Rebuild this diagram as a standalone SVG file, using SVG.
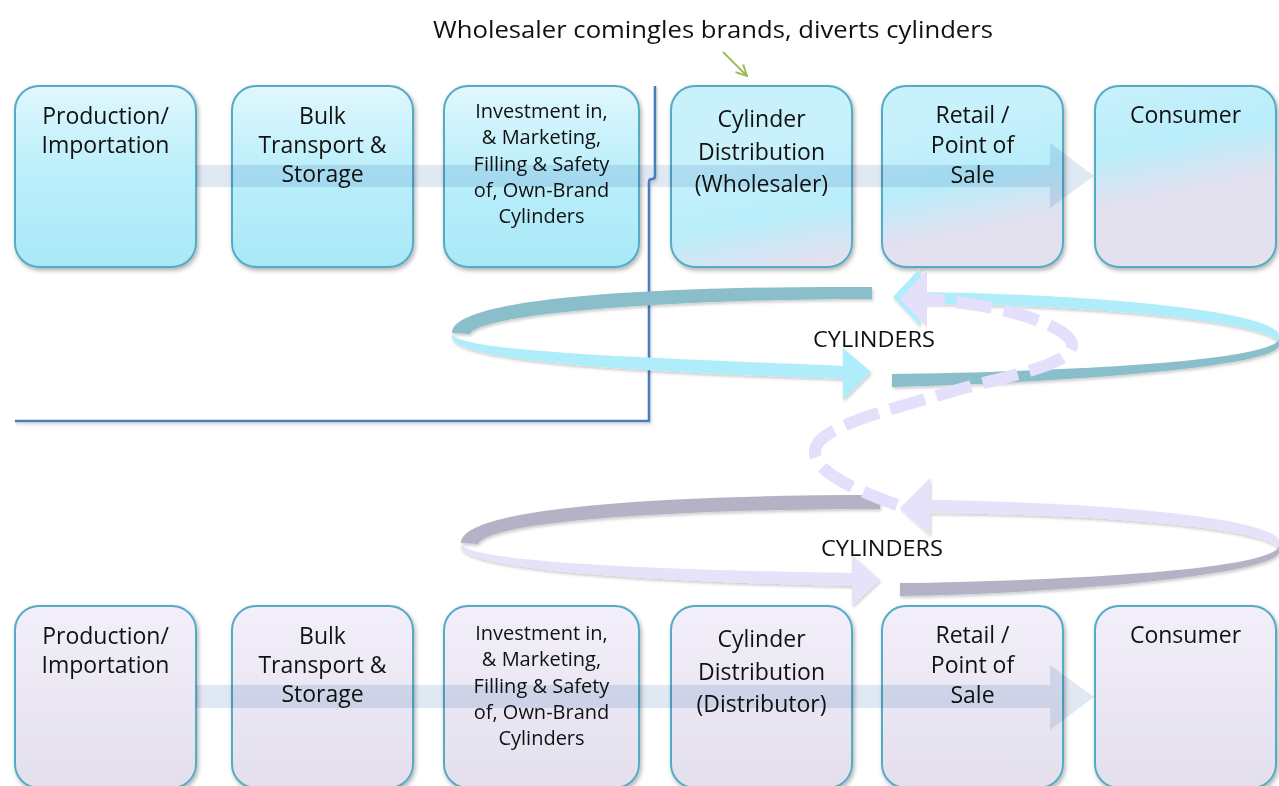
<svg xmlns="http://www.w3.org/2000/svg" width="1279" height="786" viewBox="0 0 1279 786">
  <defs>
    <style>
      .box { stroke: #55abc5; stroke-width: 2; }
      .lbl { font-family: "Open Sans", "Noto Sans", sans-serif; font-size: 23px; fill: #111; text-anchor: middle; }
      .sm { font-size: 20px; }
      .cyl { font-family: "Open Sans", "Noto Sans", sans-serif; font-size: 21px; fill: #111; text-anchor: middle; }
      .flow { fill: #8eaed4; fill-opacity: 0.27; mix-blend-mode: multiply; }
      .tdark { fill: #8abecb; }
      .tlight { fill: #b0edfb; }
      .bdark { fill: #b6b2c6; }
      .blight { fill: #e6e2fa; }
      .lav { fill: #e4dffa; }
    </style>
    <linearGradient id="gTop" x1="0" y1="0" x2="0" y2="1">
      <stop offset="0" stop-color="#e0f7fd"/>
      <stop offset="0.45" stop-color="#bdeffb"/>
      <stop offset="1" stop-color="#a9e8f8"/>
    </linearGradient>
    <linearGradient id="gMix" gradientUnits="userSpaceOnUse" x1="990" y1="110" x2="1030" y2="320">
      <stop offset="0" stop-color="#c8f1fc"/>
      <stop offset="0.3" stop-color="#b8edfa"/>
      <stop offset="0.55" stop-color="#e3e0ef"/>
      <stop offset="1" stop-color="#e5e1ed"/>
    </linearGradient>
    <linearGradient id="gBot" x1="0" y1="0" x2="0" y2="1">
      <stop offset="0" stop-color="#f2effa"/>
      <stop offset="1" stop-color="#e3dfed"/>
    </linearGradient>
    <filter id="sh" x="-10%" y="-10%" width="130%" height="130%">
      <feDropShadow dx="1.5" dy="2.5" stdDeviation="2" flood-color="#000" flood-opacity="0.3"/>
    </filter>
    <filter id="sh2" x="-5%" y="-20%" width="110%" height="150%">
      <feDropShadow dx="1" dy="2" stdDeviation="1.5" flood-color="#000" flood-opacity="0.2"/>
    </filter>
    <marker id="gArrow" viewBox="0 0 12 12" refX="11" refY="6" markerWidth="13" markerHeight="13" orient="auto" markerUnits="userSpaceOnUse">
      <path d="M1 1 L11 6 L1 11" fill="none" stroke="#9bbb59" stroke-width="1.8"/>
    </marker>
  </defs>

  <rect width="1279" height="786" fill="#ffffff"/>

  <!-- title -->
  <text id="title" x="713" y="38" font-family="Open Sans, Noto Sans, sans-serif" font-size="24" fill="#111" text-anchor="middle" textLength="560" lengthAdjust="spacingAndGlyphs">Wholesaler comingles brands, diverts cylinders</text>

  <!-- top row nodes -->
  <g id="top-production">
    <rect class="box" x="15" y="86" width="181" height="181" rx="24" fill="url(#gTop)" filter="url(#sh)"/>
    <text class="lbl" x="105.5" y="124">Production/</text>
    <text class="lbl" x="105.5" y="153">Importation</text>
  </g>
  <g id="top-bulk">
    <rect class="box" x="232" y="86" width="181" height="181" rx="24" fill="url(#gTop)" filter="url(#sh)"/>
    <text class="lbl" x="322.5" y="124">Bulk</text>
    <text class="lbl" x="322.5" y="153">Transport &amp;</text>
    <text class="lbl" x="322.5" y="182">Storage</text>
  </g>
  <g id="top-investment">
    <rect class="box" x="444" y="86" width="195" height="181" rx="24" fill="url(#gTop)" filter="url(#sh)"/>
    <text class="lbl sm" x="541.5" y="118">Investment in,</text>
    <text class="lbl sm" x="541.5" y="144">&amp; Marketing,</text>
    <text class="lbl sm" x="541.5" y="171">Filling &amp; Safety</text>
    <text class="lbl sm" x="541.5" y="197">of, Own-Brand</text>
    <text class="lbl sm" x="541.5" y="223">Cylinders</text>
  </g>
  <g id="top-distribution">
    <rect class="box" x="671" y="86" width="181" height="181" rx="24" fill="url(#gMix)" filter="url(#sh)"/>
    <text class="lbl" x="761.5" y="127">Cylinder</text>
    <text class="lbl" x="761.5" y="160">Distribution</text>
    <text class="lbl" x="761.5" y="192">(Wholesaler)</text>
  </g>
  <g id="top-retail">
    <rect class="box" x="882" y="86" width="181" height="181" rx="24" fill="url(#gMix)" filter="url(#sh)"/>
    <text class="lbl" x="972.5" y="123">Retail /</text>
    <text class="lbl" x="972.5" y="153">Point of</text>
    <text class="lbl" x="972.5" y="183">Sale</text>
  </g>
  <g id="top-consumer">
    <rect class="box" x="1095" y="86" width="181" height="181" rx="24" fill="url(#gMix)" filter="url(#sh)"/>
    <text class="lbl" x="1185.5" y="123">Consumer</text>
  </g>

  <!-- bottom row nodes -->
  <g id="bot-production">
    <rect class="box" x="15" y="606" width="181" height="182" rx="24" fill="url(#gBot)" filter="url(#sh)"/>
    <text class="lbl" x="105.5" y="644">Production/</text>
    <text class="lbl" x="105.5" y="673">Importation</text>
  </g>
  <g id="bot-bulk">
    <rect class="box" x="232" y="606" width="181" height="182" rx="24" fill="url(#gBot)" filter="url(#sh)"/>
    <text class="lbl" x="322.5" y="644">Bulk</text>
    <text class="lbl" x="322.5" y="673">Transport &amp;</text>
    <text class="lbl" x="322.5" y="702">Storage</text>
  </g>
  <g id="bot-investment">
    <rect class="box" x="444" y="606" width="195" height="182" rx="24" fill="url(#gBot)" filter="url(#sh)"/>
    <text class="lbl sm" x="541.5" y="640">Investment in,</text>
    <text class="lbl sm" x="541.5" y="666">&amp; Marketing,</text>
    <text class="lbl sm" x="541.5" y="693">Filling &amp; Safety</text>
    <text class="lbl sm" x="541.5" y="719">of, Own-Brand</text>
    <text class="lbl sm" x="541.5" y="745">Cylinders</text>
  </g>
  <g id="bot-distribution">
    <rect class="box" x="671" y="606" width="181" height="182" rx="24" fill="url(#gBot)" filter="url(#sh)"/>
    <text class="lbl" x="761.5" y="647">Cylinder</text>
    <text class="lbl" x="761.5" y="680">Distribution</text>
    <text class="lbl" x="761.5" y="712">(Distributor)</text>
  </g>
  <g id="bot-retail">
    <rect class="box" x="882" y="606" width="181" height="182" rx="24" fill="url(#gBot)" filter="url(#sh)"/>
    <text class="lbl" x="972.5" y="643">Retail /</text>
    <text class="lbl" x="972.5" y="673">Point of</text>
    <text class="lbl" x="972.5" y="703">Sale</text>
  </g>
  <g id="bot-consumer">
    <rect class="box" x="1095" y="606" width="181" height="182" rx="24" fill="url(#gBot)" filter="url(#sh)"/>
    <text class="lbl" x="1185.5" y="643">Consumer</text>
  </g>

  <!-- connectors -->
  <g id="connectors">
    <!-- flow arrows -->
    <path class="flow" d="M196 165 L1050 165 L1050 143 L1094 176 L1050 208 L1050 187 L196 187 Z"/>
    <path class="flow" d="M196 685 L1050 685 L1050 665 L1094 697 L1050 730 L1050 708 L196 708 Z"/>

    <!-- divider line -->
    <path d="M655 86 L655 176 Q655 179 652 179 Q649 179 649 182 L649 421 L15 421" fill="none" stroke="#4a7ebb" stroke-width="2.5" filter="url(#sh2)"/>

    <!-- green pointer -->
    <line x1="723" y1="52" x2="747" y2="76" stroke="#9bbb59" stroke-width="1.8" marker-end="url(#gArrow)"/>

    <!-- top cylinder loop -->
    <g id="top-loop" filter="url(#sh2)">
      <path class="tdark" d="M872 287 C680 286 452 295 452 333 L470 334 C482 312 690 299 872 299 Z"/>
      <path class="tlight" d="M452 333 C452 352 650 358 845 366 L845 379 C640 372 460 362 452 338 Z"/>
      <path class="tlight" d="M843 348 L871 372 L843 400 Z"/>
      <path class="tdark" d="M892 374 C1050 372 1279 362 1279 338 L1279 346 C1272 368 1050 383 892 387 Z"/>
      <path class="tlight" d="M918 292 C1100 294 1279 312 1279 336 L1278 342 C1265 322 1100 305 918 304 Z"/>
      <path class="tlight" d="M920 268 L893 297 L920 326 Z"/>
    </g>

    <!-- bottom cylinder loop -->
    <g id="bottom-loop" filter="url(#sh2)">
      <path class="bdark" d="M880 495 C690 495 461 505 461 543 L478 544 C490 520 690 509 880 509 Z"/>
      <path class="blight" d="M461 543 C461 562 660 570 854 573 L854 586 C650 582 470 570 461 548 Z"/>
      <path class="blight" d="M852 555 L880 580 L852 606 Z"/>
      <path class="bdark" d="M900 583 C1060 581 1279 570 1279 545 L1279 553 C1270 575 1060 594 900 596 Z"/>
      <path class="blight" d="M926 500 C1100 502 1279 518 1279 542 L1278 548 C1265 528 1100 514 926 513 Z"/>
      <path class="blight" d="M930 478 L900 508 L930 535 Z"/>
    </g>

    <!-- dashed diversion arrow -->
    <path d="M897 505 C850 488 812 470 815 450 C818 428 880 412 950 392 C1010 375 1072 365 1072 345 C1072 328 1010 305 926 299" fill="none" stroke="#e4dffa" stroke-width="12" stroke-dasharray="36 12"/>
    <path class="lav" d="M927 270 L900 299 L927 328 Z"/>
  </g>

  <!-- loop labels -->
  <text class="cyl" x="874" y="347" textLength="122" lengthAdjust="spacingAndGlyphs">CYLINDERS</text>
  <text class="cyl" x="882" y="556" textLength="122" lengthAdjust="spacingAndGlyphs">CYLINDERS</text>
</svg>
